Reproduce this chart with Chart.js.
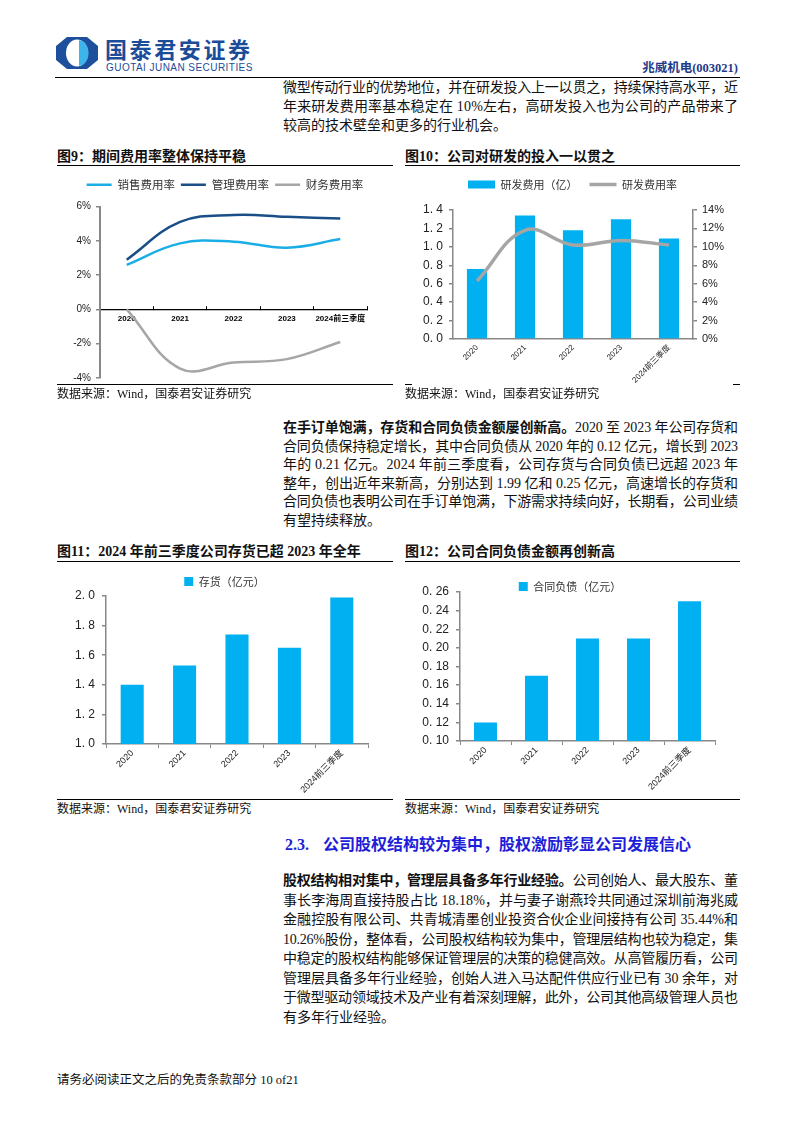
<!DOCTYPE html>
<html><head><meta charset="utf-8">
<script src="https://cdn.jsdelivr.net/npm/chart.js@4.4.1/dist/chart.umd.min.js"></script>
<style>
html,body{margin:0;padding:0;background:#fff;}
body{width:794px;height:1123px;position:relative;overflow:hidden;font-family:'Liberation Serif','Noto Sans CJK SC',serif;color:#111;}
.txt{position:absolute;left:283px;width:455px;font-size:14px;line-height:18px;height:18px;white-space:nowrap;}
.rule{position:absolute;height:0;border-top:1.5px solid #000;}
.ctitle{position:absolute;font-size:14px;font-weight:bold;line-height:18px;white-space:nowrap;}
.src{position:absolute;font-size:12px;line-height:16px;white-space:nowrap;}
canvas{position:absolute;}
</style></head><body>

<svg style="position:absolute;left:55px;top:36px" width="44" height="34" viewBox="0 0 44 34">
  <path d="M12,1 L32,1 L43,10 L43,24 L32,33 L12,33 L1,24 L1,10 Z" fill="#1D4F9C"/>
  <ellipse cx="22" cy="17" rx="11" ry="13.5" fill="#fff"/>
  <path d="M24,4.2 A9.5,12.6 0 0 1 24,29.8 Z" fill="#3DB5EA"/>
</svg>
<div style="position:absolute;left:105px;top:35px;font-family:'Noto Sans CJK SC';font-weight:bold;font-size:22px;line-height:26px;color:#1B4C9A;letter-spacing:2.6px;white-space:nowrap;">国泰君安证券</div>
<div style="position:absolute;left:106px;top:62px;font-family:'Liberation Sans','Roboto';font-size:10px;line-height:11px;color:#1B4C9A;letter-spacing:0.45px;white-space:nowrap;">GUOTAI JUNAN SECURITIES</div>
<div style="position:absolute;right:56px;top:60px;font-size:12.5px;font-weight:bold;line-height:16px;color:#1F3A8A;">兆威机电(003021)</div>
<div class="rule" style="left:55px;width:685px;top:77px;"></div>

<div class="txt j" style="top:79px"><span>微型传动行业的优势地位，并在研发投入上一以贯之，持续保持高水平，近</span></div>
<div class="txt j" style="top:98px"><span>年来研发费用率基本稳定在 10%左右，高研发投入也为公司的产品带来了</span></div>
<div class="txt" style="top:117px"><span>较高的技术壁垒和更多的行业机会。</span></div>

<div class="ctitle" style="left:57px;top:148px">图9：期间费用率整体保持平稳</div>
<div class="rule" style="left:57px;width:336px;top:165px;"></div>
<div class="ctitle" style="left:405px;top:148px">图10：公司对研发的投入一以贯之</div>
<div class="rule" style="left:405px;width:335px;top:165px;"></div>

<canvas id="c9" width="336" height="219" style="left:57px;top:170px"></canvas>
<canvas id="c10" width="335" height="214" style="left:405px;top:170px"></canvas>

<div class="rule" style="left:57px;width:336px;top:384px;border-top-width:1px;"></div>
<div class="src" style="left:57px;top:386px">数据来源：Wind，国泰君安证券研究</div>
<div class="rule" style="left:405px;width:7px;top:384px;border-top-width:1px;"></div>
<div class="rule" style="left:733px;width:7px;top:384px;border-top-width:1px;"></div>
<div class="src" style="left:405px;top:386px">数据来源：Wind，国泰君安证券研究</div>

<div class="txt j" style="top:419px"><span><b>在手订单饱满，存货和合同负债金额屡创新高。</b>2020 至 2023 年公司存货和</span></div>
<div class="txt j" style="top:437.5px"><span>合同负债保持稳定增长，其中合同负债从 2020 年的 0.12 亿元，增长到 2023</span></div>
<div class="txt j" style="top:456px"><span>年的 0.21 亿元。2024 年前三季度看，公司存货与合同负债已远超 2023 年</span></div>
<div class="txt j" style="top:474.5px"><span>整年，创出近年来新高，分别达到 1.99 亿和 0.25 亿元，高速增长的存货和</span></div>
<div class="txt j" style="top:493px"><span>合同负债也表明公司在手订单饱满，下游需求持续向好，长期看，公司业绩</span></div>
<div class="txt" style="top:511.5px"><span>有望持续释放。</span></div>

<div class="ctitle" style="left:57px;top:543px">图11：2024 年前三季度公司存货已超 2023 年全年</div>
<div class="rule" style="left:57px;width:336px;top:561px;"></div>
<div class="ctitle" style="left:405px;top:543px">图12：公司合同负债金额再创新高</div>
<div class="rule" style="left:405px;width:335px;top:561px;"></div>

<canvas id="c11" width="336" height="232" style="left:57px;top:566px"></canvas>
<canvas id="c12" width="335" height="232" style="left:405px;top:566px"></canvas>

<div class="rule" style="left:57px;width:336px;top:799px;border-top-width:1px;"></div>
<div class="src" style="left:57px;top:801px">数据来源：Wind，国泰君安证券研究</div>
<div class="rule" style="left:405px;width:335px;top:799px;border-top-width:1px;"></div>
<div class="src" style="left:405px;top:801px">数据来源：Wind，国泰君安证券研究</div>

<div style="position:absolute;left:285px;top:835px;font-size:16px;font-weight:bold;line-height:20px;color:#1E1ED8;white-space:nowrap;">2.3.<span style="position:absolute;left:38px;">公司股权结构较为集中，股权激励彰显公司发展信心</span></div>

<div class="txt j" style="top:872px"><span><b>股权结构相对集中，管理层具备多年行业经验。</b>公司创始人、最大股东、董</span></div>
<div class="txt j" style="top:891.5px"><span>事长李海周直接持股占比 18.18%，并与妻子谢燕玲共同通过深圳前海兆威</span></div>
<div class="txt j" style="top:911px"><span>金融控股有限公司、共青城清墨创业投资合伙企业间接持有公司 35.44%和</span></div>
<div class="txt j" style="top:930.5px"><span>10.26%股份，整体看，公司股权结构较为集中，管理层结构也较为稳定，集</span></div>
<div class="txt j" style="top:950px"><span>中稳定的股权结构能够保证管理层的决策的稳健高效。从高管履历看，公司</span></div>
<div class="txt j" style="top:969.5px"><span>管理层具备多年行业经验，创始人进入马达配件供应行业已有 30 余年，对</span></div>
<div class="txt j" style="top:989px"><span>于微型驱动领域技术及产业有着深刻理解，此外，公司其他高级管理人员也</span></div>
<div class="txt" style="top:1008.5px"><span>有多年行业经验。</span></div>

<div style="position:absolute;left:57px;top:1072px;font-size:12.5px;line-height:16px;white-space:nowrap;">请务必阅读正文之后的免责条款部分 10 of21</div>

<script>
// ---------- data ----------
const categories = ['2020', '2021', '2022', '2023', '2024前三季度'];

// 图9 期间费用率 (%)
const salesRate   = [2.6, 3.85, 3.95, 3.6, 4.1];
const adminRate   = [2.9, 5.1, 5.5, 5.4, 5.3];
const financeRate = [0.0, -3.45, -3.1, -2.9, -1.9];
const fig9Ticks   = ['-4%', '-2%', '0%', '2%', '4%', '6%'];

// 图10 研发费用 (亿) / 研发费用率 (%)
const rdExpense      = [0.76, 1.34, 1.18, 1.30, 1.09];
const rdRate         = [6.3, 11.8, 10.2, 10.7, 10.2];
const fig10LeftTicks  = ['0. 0', '0. 2', '0. 4', '0. 6', '0. 8', '1. 0', '1. 2', '1. 4'];
const fig10RightTicks = ['0%', '2%', '4%', '6%', '8%', '10%', '12%', '14%'];

// 图11 存货 (亿元)
const inventory  = [1.40, 1.53, 1.74, 1.65, 1.99];
const fig11Ticks = ['1. 0', '1. 2', '1. 4', '1. 6', '1. 8', '2. 0'];

// 图12 合同负债 (亿元)
const contractLiab = [0.12, 0.17, 0.21, 0.21, 0.25];
const fig12Ticks   = ['0. 10', '0. 12', '0. 14', '0. 16', '0. 18', '0. 20', '0. 22', '0. 24', '0. 26'];

// ---------- text justification ----------
document.querySelectorAll('.j').forEach(el => {
  const sp = el.querySelector('span');
  const w = sp.getBoundingClientRect().width;
  const n = sp.textContent.length;
  el.style.letterSpacing = ((455 - w) / (n - 1)) + 'px';
});

// ---------- charts ----------
const CJK = "'Noto Sans CJK SC', sans-serif";
const SANS = "'Liberation Sans', 'Noto Sans CJK SC', sans-serif";
const BLUE = '#00B0F0';

const legendShift = {
  id: 'legendShift',
  afterLayout(chart, args, opts) {
    if (!chart.legend || !opts) return;
    if (opts.dy) { chart.legend.top += opts.dy; chart.legend.bottom += opts.dy; }
    if (opts.dx) { chart.legend.left += opts.dx; chart.legend.right += opts.dx; }
  }
};

function tickFrom(arr, min, step) {
  return v => arr[Math.round((v - min) / step)];
}

// 图9
new Chart(document.getElementById('c9'), {
  type: 'line',
  data: {
    labels: categories,
    datasets: [
      { label: '销售费用率', data: salesRate, borderColor: '#1BAEE6', backgroundColor: '#1BAEE6', borderWidth: 2.5, tension: 0.4, pointRadius: 0, pointStyle: 'line', fill: false },
      { label: '管理费用率', data: adminRate, borderColor: '#1A4E88', backgroundColor: '#1A4E88', borderWidth: 2.5, tension: 0.4, pointRadius: 0, pointStyle: 'line', fill: false },
      { label: '财务费用率', data: financeRate, borderColor: '#A6A6A6', backgroundColor: '#A6A6A6', borderWidth: 2.5, tension: 0.4, pointRadius: 0, pointStyle: 'line', fill: false }
    ]
  },
  options: {
    responsive: false, animation: false, devicePixelRatio: 1,
    layout: { padding: { top: 9, right: 26, bottom: 5, left: 0 } },
    plugins: {
      legend: { labels: { usePointStyle: true, pointStyleWidth: 25, boxHeight: 11, padding: 6, color: '#333', font: { family: CJK, size: 11.5 } } },
      tooltip: { enabled: false },
      legendShift: { dy: -6, dx: 13 }
    },
    scales: {
      x: {
        position: { y: 0 }, offset: true,
        grid: { display: true, drawOnChartArea: false, offset: true, tickLength: -4, color: '#000', lineWidth: 1 },
        border: { color: '#000', width: 1.2 },
        ticks: { autoSkip: false, maxRotation: 0, padding: 9, color: '#000', font: { family: SANS, size: 8, weight: 'bold' } }
      },
      y: {
        min: -4, max: 6,
        afterFit(s) { s.width = 43; },
        ticks: { stepSize: 2, padding: 5, color: '#222', font: { family: SANS, size: 10 }, callback: tickFrom(fig9Ticks, -4, 2) },
        grid: { drawOnChartArea: false, tickLength: 4, color: '#888', lineWidth: 1.5 },
        border: { color: '#888', width: 2 }
      }
    }
  },
  plugins: [legendShift]
});

// 图10
new Chart(document.getElementById('c10'), {
  type: 'bar',
  data: {
    labels: categories,
    datasets: [
      { type: 'bar', label: '研发费用（亿）', data: rdExpense, backgroundColor: BLUE, yAxisID: 'y', order: 1, categoryPercentage: 1, barPercentage: 0.42, pointStyle: 'rect' },
      { type: 'line', label: '研发费用率', data: rdRate, borderColor: '#A5A5A5', backgroundColor: '#A5A5A5', borderWidth: 3.5, tension: 0.4, pointRadius: 0, pointStyle: 'line', yAxisID: 'y1', order: 0 }
    ]
  },
  options: {
    responsive: false, animation: false, devicePixelRatio: 1,
    layout: { padding: { top: 7, right: 0, bottom: 0, left: 0 } },
    plugins: {
      legend: { labels: { usePointStyle: true, pointStyleWidth: 27, boxHeight: 8, padding: 12, color: '#333', font: { family: CJK, size: 11 }, sort: (a, b) => a.datasetIndex - b.datasetIndex } },
      tooltip: { enabled: false },
      legendShift: { dy: -10 }
    },
    scales: {
      x: {
        offset: true,
        grid: { display: false, drawTicks: false, tickLength: 0 },
        border: { color: '#888', width: 1.5 },
        afterFit(s) { s.height = 45; },
        ticks: { autoSkip: false, minRotation: 45, maxRotation: 45, padding: 4, color: '#222', font: { family: SANS, size: 8 } }
      },
      y: {
        position: 'left', min: 0, max: 1.4,
        afterFit(s) { s.width = 48; },
        ticks: { stepSize: 0.2, padding: 6, color: '#222', font: { family: SANS, size: 12 }, callback: tickFrom(fig10LeftTicks, 0, 0.2) },
        grid: { drawOnChartArea: false, tickLength: 4, color: '#888', lineWidth: 1.5 },
        border: { color: '#888', width: 1.5 }
      },
      y1: {
        position: 'right', min: 0, max: 14,
        afterFit(s) { s.width = 47; },
        ticks: { stepSize: 2, padding: 5, color: '#222', font: { family: SANS, size: 11 }, callback: tickFrom(fig10RightTicks, 0, 2) },
        grid: { drawOnChartArea: false, tickLength: 4, color: '#888', lineWidth: 1.5 },
        border: { color: '#888', width: 1.5 }
      }
    }
  },
  plugins: [legendShift]
});

function singleBar(id, label, data, min, max, step, ticks, yWidth, padTop, legendPad, dy, dx, xHeight, barPct) {
  new Chart(document.getElementById(id), {
    type: 'bar',
    data: { labels: categories, datasets: [{ label: label, data: data, backgroundColor: BLUE, categoryPercentage: 1, barPercentage: barPct }] },
    options: {
      responsive: false, animation: false, devicePixelRatio: 1,
      layout: { padding: { top: padTop, right: 25, bottom: 2, left: 0 } },
      plugins: {
        legend: { labels: { boxWidth: 9, boxHeight: 9, padding: legendPad, color: '#333', font: { family: CJK, size: 11 } } },
        tooltip: { enabled: false },
        legendShift: { dy: dy, dx: dx }
      },
      scales: {
        x: {
          offset: true,
          grid: { display: true, drawOnChartArea: false, offset: true, tickLength: 4, color: '#888', lineWidth: 1 },
          border: { color: '#888', width: 1.5 },
          afterFit(s) { s.height = xHeight; },
          ticks: { autoSkip: false, minRotation: 45, maxRotation: 45, padding: 0, color: '#222', font: { family: SANS, size: 9 } }
        },
        y: {
          min: min, max: max,
          afterFit(s) { s.width = yWidth; },
          ticks: { stepSize: step, padding: 7, color: '#222', font: { family: SANS, size: 12 }, callback: tickFrom(ticks, min, step) },
          grid: { drawOnChartArea: false, tickLength: 4, color: '#888', lineWidth: 1.5 },
          border: { color: '#888', width: 1.5 }
        }
      }
    },
    plugins: [legendShift]
  });
}

singleBar('c11', '存货（亿元）', inventory, 1.0, 2.0, 0.2, fig11Ticks, 49, 3, 6, 1, 12, 52, 0.44);
singleBar('c12', '合同负债（亿元）', contractLiab, 0.10, 0.26, 0.02, fig12Ticks, 55, 3, 2, 10, 10, 55, 0.45);
</script>
</body></html>
